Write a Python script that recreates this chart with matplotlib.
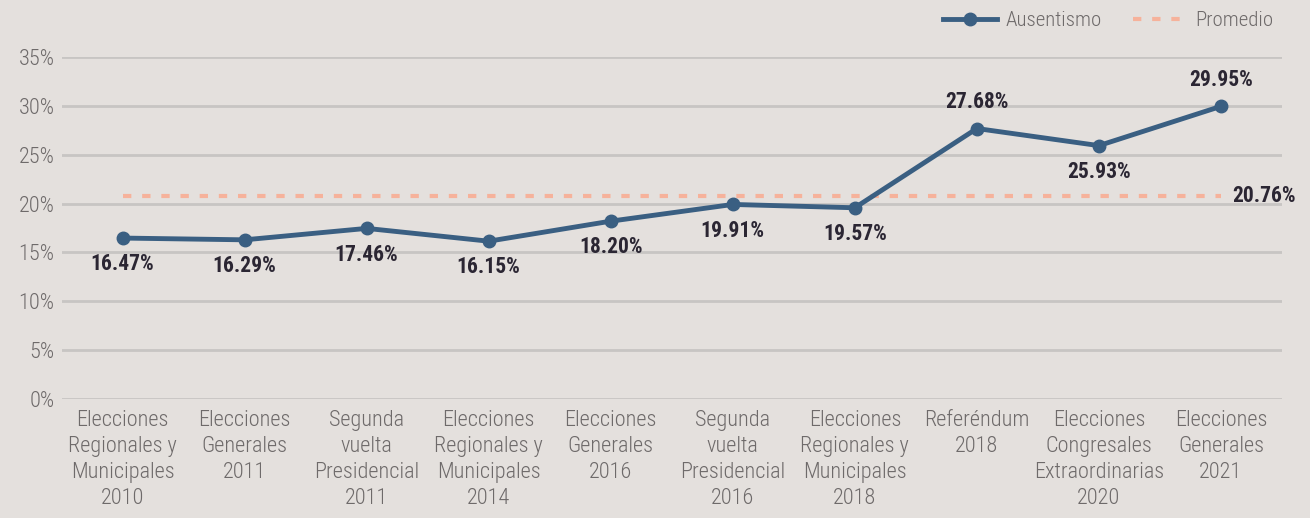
import matplotlib.pyplot as plt
from matplotlib import font_manager

categorias = ["Elecciones\nRegionales y\nMunicipales\n2010", "Elecciones\nGenerales\n2011",
              "Segunda\nvuelta\nPresidencial\n2011", "Elecciones\nRegionales y\nMunicipales\n2014",
              "Elecciones\nGenerales\n2016", "Segunda\nvuelta\nPresidencial\n2016",
              "Elecciones\nRegionales y\nMunicipales\n2018", "Referéndum\n2018",
              "Elecciones\nCongresales\nExtraordinarias\n2020", "Elecciones\nGenerales\n2021"]
ausentismo = [16.47, 16.29, 17.46, 16.15, 18.20, 19.91, 19.57, 27.68, 25.93, 29.95]
promedio = 20.76
arriba = [False, False, False, False, False, False, False, True, False, True]

names = {f.name for f in font_manager.fontManager.ttflist}
fam = [n for n in ["Roboto Condensed", "Liberation Sans Narrow", "DejaVu Sans"] if n in names]
plt.rcParams['font.family'] = fam

bg = "#E4E0DD"
azul = "#3A5F82"
salmon = "#F6B29B"
gris = "#6E6A6A"

fig = plt.figure(figsize=(13.1, 5.18), dpi=100, facecolor=bg)
ax = fig.add_axes([0.047, 0.2297, 0.9316, 0.6603], facecolor=bg)

x = list(range(len(categorias)))
ax.plot(x, ausentismo, color=azul, lw=3.5, marker="o", ms=9, label="Ausentismo", zorder=3)
ax.plot([x[0], x[-1]], [promedio, promedio], color=salmon, lw=3, ls=(0, (2, 2.6)),
        label="Promedio", zorder=2)

for xi, v, up in zip(x, ausentismo, arriba):
    ax.annotate(f"{v:.2f}%", (xi, v), xytext=(0, 11 if up else -11), textcoords="offset points",
                ha="center", va="bottom" if up else "top", fontsize=15.5, fontweight="bold",
                color="#2B2633")
ax.annotate(f"{promedio:.2f}%", (x[-1], promedio), xytext=(8, 0), textcoords="offset points",
            ha="left", va="center", fontsize=15.5, fontweight="bold", color="#2B2633")

ax.set_xlim(-0.5, len(categorias) - 0.5)
ax.set_ylim(0, 35)
ax.set_yticks(range(0, 36, 5))
ax.set_yticklabels([f"{t}%" for t in range(0, 36, 5)], fontsize=16, color=gris,
                   fontweight="light")
ax.set_xticks(x)
ax.set_xticklabels(categorias, fontsize=16, color=gris, linespacing=1.3, fontweight="light")
ax.tick_params(axis="y", length=0, pad=5)
ax.tick_params(axis="x", length=0, pad=8)
ax.grid(axis="y", color="#C7C5C3", lw=2)
ax.set_axisbelow(True)
for s in ax.spines.values():
    s.set_visible(False)

leg = ax.legend(loc="lower right", bbox_to_anchor=(1.0, 1.055), ncol=2, frameon=False,
                fontsize=15, labelcolor=gris, handlelength=2.6, columnspacing=1.5,
                handletextpad=0.4, borderaxespad=0)
for t in leg.get_texts():
    t.set_fontweight("light")

fig.savefig("out.png", dpi=100, facecolor=bg)
